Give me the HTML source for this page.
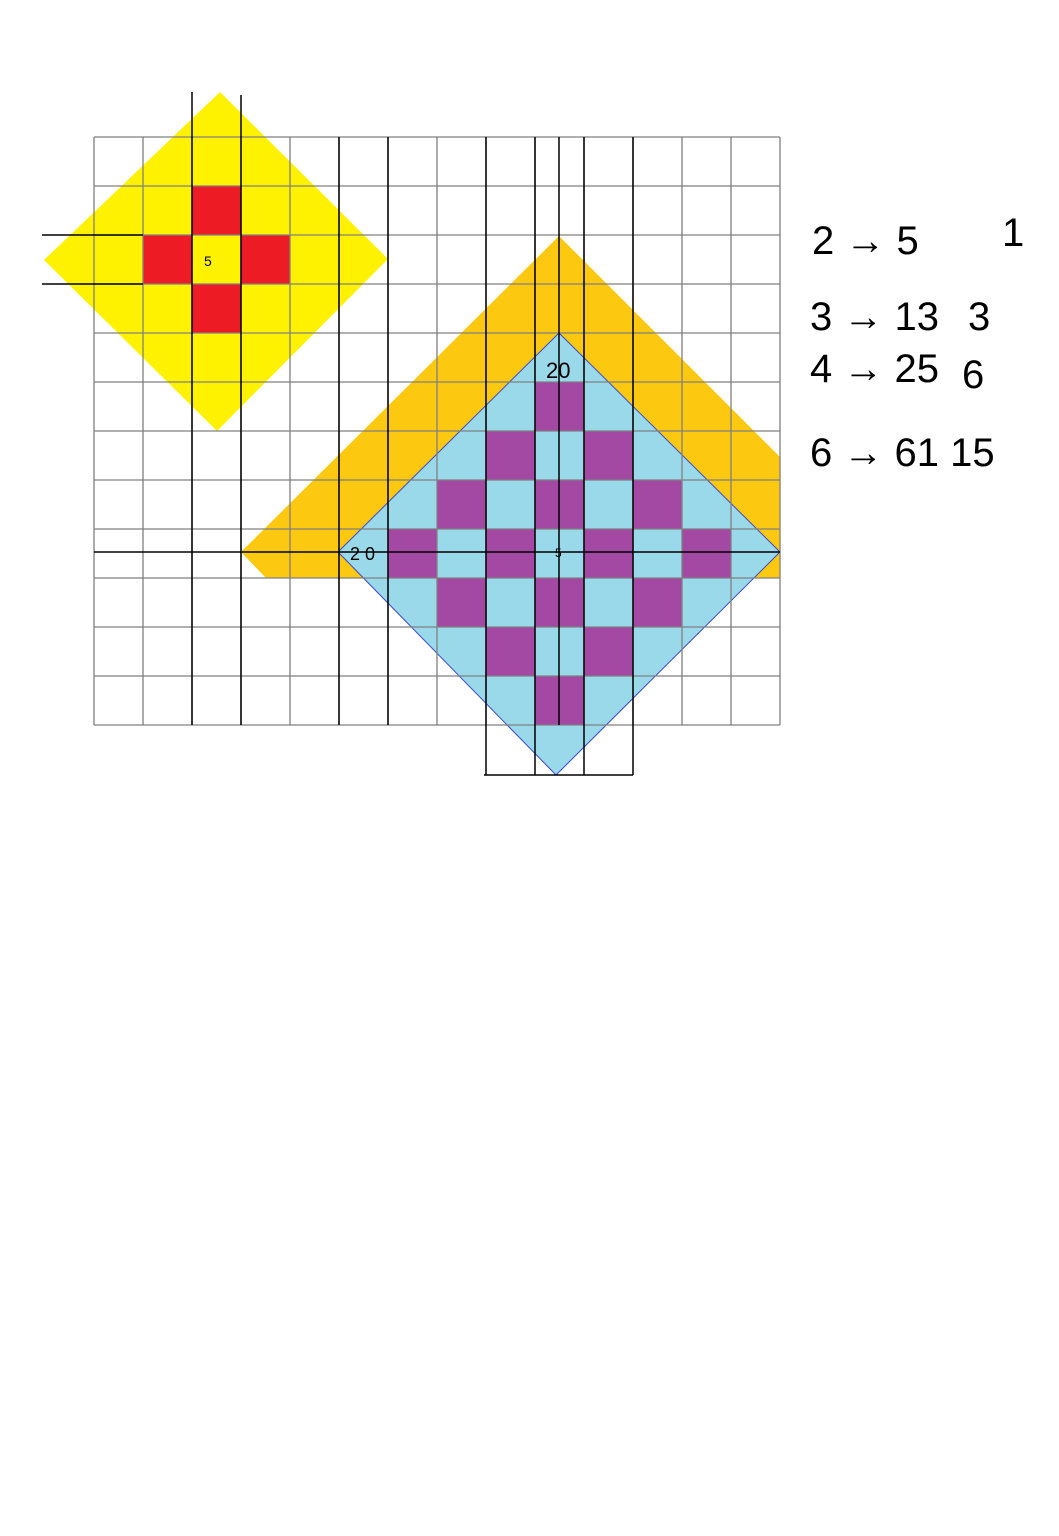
<!DOCTYPE html>
<html><head><meta charset="utf-8"><style>
html,body{margin:0;padding:0;background:#fff;width:1059px;height:1536px;overflow:hidden}
svg{display:block}
text{font-family:"Liberation Sans",sans-serif}
</style></head><body>
<svg id="s" width="1059" height="1536">
<g id="shapes"></g>
<g id="grid"></g>
<g id="marks"></g>
<g font-size="40" fill="#000">
<text x="812" y="254">2 → 5</text>
<text x="1002" y="246">1</text>
<text x="810" y="330">3 → 13</text>
<text x="968" y="330">3</text>
<text x="810" y="382">4 → 25</text>
<text x="962" y="388">6</text>
<text x="810" y="466">6 → 61 15</text>
</g>
</svg>
<script>
const NS='http://www.w3.org/2000/svg';
const gx0=94,gy0=137,cs=49,cols=14,rows=12;
const redCells=[[2,1],[1,2],[3,2],[2,3]];
const purpleCells=[[9,5],[8,6],[10,6],[7,7],[9,7],[11,7],[6,8],[8,8],[10,8],[12,8],[7,9],[9,9],[11,9],[8,10],[10,10],[9,11]];
const blackV=[[192,92,725],[241,95,725],[339,137,725],[388,137,725],[486,137,775],[535,137,775],[559,137,725],[584,137,775],[633,137,775]];
const blackH=[[42,143,235],[42,143,284],[94,780,552],[484,633,775]];
function el(t,a,p,name){const e=document.createElementNS(NS,t);for(const k in a)e.setAttribute(k,a[k]);


document.getElementById(p).appendChild(e);return e;}
const X=c=>gx0+c*cs, Y=r=>gy0+r*cs;
el('polygon',{points:'559,236 780,457 780,578 266,578 241,552',fill:'#fdc810'},'shapes','orange-shape');
el('polygon',{points:'220,92 388,259 217,431 44,260',fill:'#fff200'},'shapes','yellow-diamond');
redCells.forEach(([c,r])=>el('rect',{x:X(c),y:Y(r),width:cs,height:cs,fill:'#ed1c24'},'shapes','red-cell'));
el('polygon',{points:'559,333 780,552 556,775 338,552',fill:'#99d9ea',stroke:'#3f48cc','stroke-width':1},'shapes','blue-diamond');
purpleCells.forEach(([c,r])=>el('rect',{x:X(c),y:Y(r),width:cs,height:cs,fill:'#a349a4'},'shapes','purple-cell'));
for(let i=0;i<=cols;i++)el('line',{x1:X(i),y1:gy0,x2:X(i),y2:Y(rows),stroke:'#808080','stroke-width':1.3},'grid','grid-v');
for(let j=0;j<=rows;j++)el('line',{x1:gx0,y1:Y(j),x2:X(cols),y2:Y(j),stroke:'#808080','stroke-width':1.3},'grid','grid-h');
blackV.forEach(([x,a,b])=>el('line',{x1:x,y1:a,x2:x,y2:b,stroke:'#000','stroke-width':1.5},'marks','black-v'));
blackH.forEach(([a,b,y])=>el('line',{x1:a,y1:y,x2:b,y2:y,stroke:'#000','stroke-width':1.5},'marks','black-h'));
const t1=el('text',{x:204,y:266,'font-size':14},'marks','label-5-yellow');t1.textContent='5';
const t2=el('text',{x:546,y:378,'font-size':22},'marks','label-20-top');t2.textContent='20';
const t3=el('text',{x:350,y:560,'font-size':18},'marks','label-20-left');t3.textContent='2 0';
const t4=el('text',{x:555,y:557,'font-size':12},'marks','label-5-blue');t4.textContent='5';
</script>
</body></html>
